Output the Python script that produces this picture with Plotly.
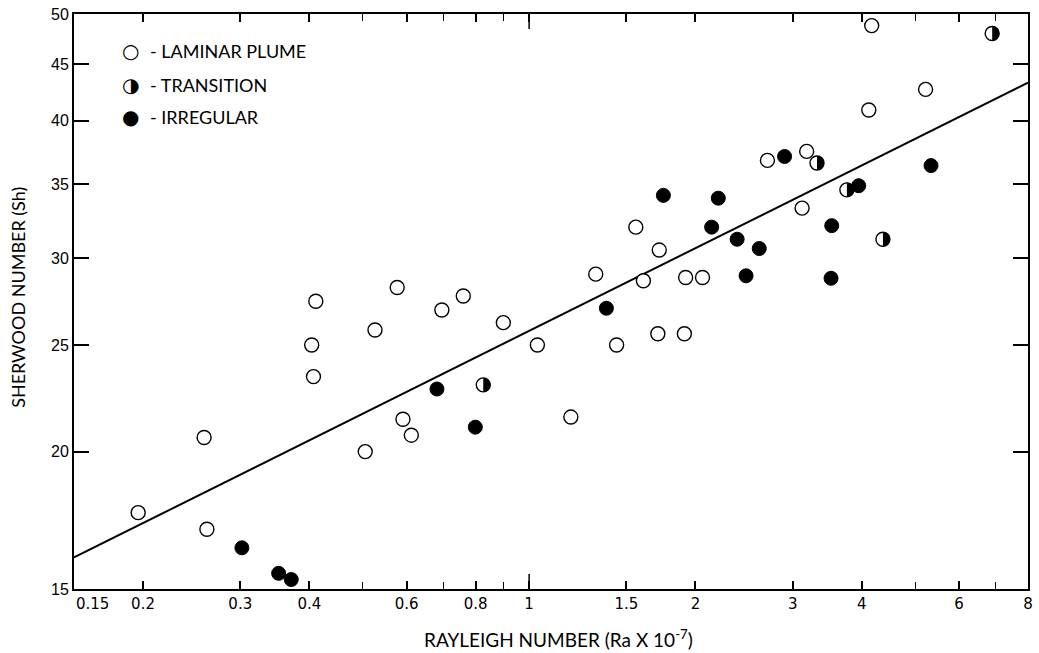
import math
import plotly.graph_objects as go

# Rayleigh number (Ra x 10^-7) and Sherwood number, grouped by flow regime
laminar_ra = [0.196, 0.258, 0.261, 0.404, 0.407, 0.411, 0.505, 0.526, 0.577, 0.591,
              0.612, 0.695, 0.760, 0.898, 1.035, 1.19, 1.32, 1.44, 1.56, 1.61,
              1.71, 1.72, 1.91, 1.92, 2.06, 2.70, 3.12, 3.18, 4.12, 4.17, 5.22]
laminar_sh = [17.6, 20.6, 17.0, 25.0, 23.4, 27.4, 20.0, 25.8, 28.2, 21.4,
              20.7, 26.9, 27.7, 26.2, 25.0, 21.5, 29.0, 25.0, 32.0, 28.6,
              25.6, 30.5, 25.6, 28.8, 28.8, 36.8, 33.3, 37.5, 40.9, 48.8, 42.7]

transition_ra = [0.826, 3.32, 3.76, 4.37, 6.89]
transition_sh = [23.0, 36.6, 34.6, 31.2, 48.0]

irregular_ra = [0.302, 0.352, 0.371, 0.681, 0.799, 1.38, 1.75, 2.14, 2.20,
                2.38, 2.47, 2.61, 2.90, 3.53, 3.52, 3.95, 5.34]
irregular_sh = [16.35, 15.5, 15.3, 22.8, 21.05, 27.0, 34.2, 32.0, 34.0,
                31.2, 28.9, 30.6, 37.1, 32.1, 28.75, 34.9, 36.4]

# Correlation Sh = C * Ra^n drawn across the full axis span
fit_coef = 25.75
fit_exp = 0.25
fit_ra = [0.15, 8]
fit_sh = [fit_coef * r ** fit_exp for r in fit_ra]

x_range = [0.15, 8]
y_range = [15, 50]
x_tick_vals = [0.2, 0.3, 0.4, 0.6, 0.8, 1, 1.5, 2, 3, 4, 6, 8]
x_tick_text = ["0.2", "0.3", "0.4", "0.6", "0.8", "1", "1.5", "2", "3", "4", "6", "8"]
x_minor_vals = [0.5, 0.7, 0.9, 5, 7]
x_long_ticks = [1]
y_tick_vals = [15, 20, 25, 30, 35, 40, 45, 50]

legend_labels = ["- LAMINAR PLUME", "- TRANSITION", "- IRREGULAR"]
legend_glyphs = ["\u25CB", "\u25D1", "\u25CF"]

X_TICK_FONT = dict(family="DejaVu Sans, sans-serif", size=15, color="black")
Y_TICK_FONT = dict(family="Liberation Sans, Arial, sans-serif", size=16, color="black")

fig = go.Figure()

fig.add_trace(go.Scatter(
    x=fit_ra, y=fit_sh, mode="lines",
    line=dict(color="black", width=2), showlegend=False, hoverinfo="skip"))

fig.add_trace(go.Scatter(
    x=laminar_ra, y=laminar_sh, mode="markers", name="LAMINAR PLUME",
    marker=dict(symbol="circle", size=14, color="white",
                line=dict(color="black", width=1.4)),
    showlegend=False))

fig.add_trace(go.Scatter(
    x=transition_ra, y=transition_sh, mode="markers", name="TRANSITION",
    marker=dict(symbol="circle", size=14, color="white",
                line=dict(color="black", width=1.4)),
    showlegend=False))

fig.add_trace(go.Scatter(
    x=irregular_ra, y=irregular_sh, mode="markers", name="IRREGULAR",
    marker=dict(symbol="circle", size=14, color="black",
                line=dict(color="black", width=1)),
    showlegend=False))

# Right half of each transition marker is filled black
r = 7.0
k = 0.5523 * r
half_disc = (f"M 0,{-r} C {k},{-r} {r},{-k} {r},0 "
             f"C {r},{k} {k},{r} 0,{r} Z")
for ra, sh in zip(transition_ra, transition_sh):
    fig.add_shape(type="path", xref="x", yref="y",
                  xsizemode="pixel", ysizemode="pixel",
                  xanchor=ra, yanchor=sh, path=half_disc,
                  fillcolor="black", line=dict(width=0), layer="above")

# Longer tick marks at the decade value on both horizontal frame edges
for xv in x_long_ticks:
    fig.add_shape(type="line", xref="x", yref="paper", x0=xv, x1=xv,
                  ysizemode="pixel", yanchor=0, y0=0, y1=15,
                  line=dict(color="black", width=1.5))
    fig.add_shape(type="line", xref="x", yref="paper", x0=xv, x1=xv,
                  ysizemode="pixel", yanchor=1, y0=0, y1=-15,
                  line=dict(color="black", width=1.5))

# Legend block in the upper-left corner
legend_y = [0.9362, 0.8759, 0.8214]
for glyph, label, yy in zip(legend_glyphs, legend_labels, legend_y):
    fig.add_annotation(xref="paper", yref="paper", x=0.0595, y=yy,
                       text=glyph, showarrow=False, xanchor="center", yanchor="middle",
                       font=dict(family="DejaVu Sans", size=20, color="black"))
    fig.add_annotation(xref="paper", yref="paper", x=0.0775, y=yy,
                       text=label, showarrow=False, xanchor="left", yanchor="middle",
                       font=dict(family="Lato, sans-serif", size=18, color="black"))

# The 0.15 label sits just inside the left corner
fig.add_annotation(xref="paper", yref="paper", x=0.0198, y=0, yshift=-4,
                   text="0.15", showarrow=False, xanchor="center", yanchor="top",
                   font=X_TICK_FONT)

# Axis titles
fig.add_annotation(xref="paper", yref="paper", x=0.5078, y=-0.0862,
                   text="RAYLEIGH NUMBER (Ra X 10<sup>-7</sup>)", showarrow=False,
                   xanchor="center", yanchor="middle",
                   font=dict(family="Lato, sans-serif", size=19, color="black"))
fig.add_annotation(xref="paper", yref="paper", x=-0.0594, y=0.5069,
                   text="SHERWOOD NUMBER (Sh)", showarrow=False, textangle=-90,
                   xanchor="center", yanchor="middle",
                   font=dict(family="Lato, sans-serif", size=18, color="black"))

log_x = [math.log10(v) for v in x_range]
log_y = [math.log10(v) for v in y_range]

fig.update_layout(
    width=1039, height=653,
    margin=dict(l=74, r=6, t=9, b=64),
    paper_bgcolor="white", plot_bgcolor="white",
    showlegend=False,
    xaxis=dict(
        type="log", range=log_x,
        tickmode="array", tickvals=x_tick_vals, ticktext=x_tick_text,
        ticks="inside", ticklen=8, tickwidth=1.5, tickcolor="black",
        minor=dict(tickmode="array", tickvals=x_minor_vals, ticks="inside",
                   ticklen=7, tickwidth=1.2, tickcolor="black", showgrid=False),
        showline=True, linecolor="black", linewidth=2, mirror="ticks",
        showgrid=False, zeroline=False, tickfont=X_TICK_FONT,
    ),
    yaxis=dict(
        type="log", range=log_y,
        tickmode="array", tickvals=y_tick_vals,
        ticktext=[str(v) for v in y_tick_vals],
        ticks="inside", ticklen=15, tickwidth=1.5, tickcolor="black",
        showline=True, linecolor="black", linewidth=2, mirror="ticks",
        showgrid=False, zeroline=False, tickfont=Y_TICK_FONT,
    ),
)

fig.write_html("out.html")
